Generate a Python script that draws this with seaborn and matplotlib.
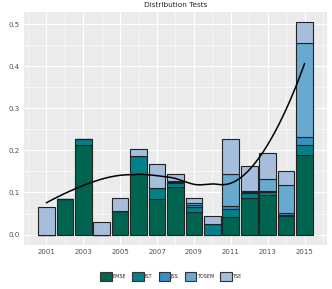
import matplotlib
matplotlib.use("Agg")
import matplotlib.pyplot as plt
import numpy as np
import pandas as pd
import seaborn as sns
from matplotlib.patches import Patch

years = list(range(2001, 2016))
venues = ["EMSE", "IST", "JSS", "TOSEM", "TSE"]
emse = [0.000, 0.084, 0.214, 0.000, 0.056, 0.144, 0.084, 0.112, 0.054, 0.000, 0.042, 0.087, 0.093, 0.044, 0.190]
ist = [0.000, 0.000, 0.012, 0.000, 0.000, 0.042, 0.026, 0.010, 0.012, 0.024, 0.019, 0.012, 0.007, 0.003, 0.024]
jss = [0.000, 0.000, 0.000, 0.000, 0.000, 0.000, 0.000, 0.003, 0.005, 0.000, 0.008, 0.003, 0.003, 0.005, 0.017]
tosem = [0.000, 0.000, 0.000, 0.000, 0.000, 0.000, 0.000, 0.003, 0.004, 0.000, 0.075, 0.002, 0.028, 0.066, 0.224]
tse = [0.065, 0.000, 0.000, 0.030, 0.030, 0.017, 0.058, 0.015, 0.013, 0.020, 0.083, 0.060, 0.063, 0.032, 0.049]
colors = ["#016450", "#02818a", "#3690c0", "#67a9cf", "#a6bddb"]


def loess(x, y, xs, span=0.75):
    # local quadratic fit with tricube weights (ggplot's geom_smooth default)
    q = int(np.floor(len(x) * span))
    out = []
    for x0 in xs:
        d = np.abs(x - x0)
        ds = np.sort(d)
        h = (ds[q - 1] + ds[q]) / 2
        w = np.clip(1 - (d / h) ** 3, 0, None) ** 3
        X = np.vstack([np.ones_like(x), x - x0, (x - x0) ** 2]).T
        W = np.diag(w)
        beta = np.linalg.solve(X.T @ W @ X, X.T @ W @ y)
        out.append(beta[0])
    return np.array(out)


rows = []
for v, vals in zip(venues, [emse, ist, jss, tosem, tse]):
    for yr, val in zip(years, vals):
        rows.append({"year": yr, "venue": v, "share": val})
df = pd.DataFrame(rows)

totals = np.array(emse) + np.array(ist) + np.array(jss) + np.array(tosem) + np.array(tse)
xs = np.linspace(2001, 2015, 200)
smooth = pd.DataFrame({"year": xs, "share": loess(np.array(years, float), totals, xs)})

sns.set_theme(style="darkgrid", rc={
    "axes.facecolor": "#EBEBEB", "grid.color": "white",
    "xtick.color": "#4D4D4D", "ytick.color": "#4D4D4D",
})
plt.rcParams["font.family"] = ["DejaVu Sans"]

fig, ax = plt.subplots(figsize=(3.32, 2.89), dpi=100)
sns.histplot(data=df, x="year", weights="share", hue="venue", hue_order=venues[::-1],
             palette=colors[::-1], multiple="stack", discrete=True, shrink=0.9,
             edgecolor="#222222", linewidth=0.8, alpha=1, legend=False, ax=ax)
sns.lineplot(data=smooth, x="year", y="share", color="black", linewidth=1.1, ax=ax)

ax.set_xlim(1999.8, 2016.2)
ax.set_ylim(-0.025, 0.53)
ax.set_xticks(range(2001, 2016, 2))
ax.set_xticks(range(2000, 2017, 2), minor=True)
ax.set_yticks(np.arange(0, 0.51, 0.1))
ax.set_yticks(np.arange(0.05, 0.51, 0.1), minor=True)
ax.set_yticklabels([f"{v:.1f}" for v in np.arange(0, 0.51, 0.1)])
ax.grid(which="major", color="white", linewidth=0.8)
ax.grid(which="minor", color="white", linewidth=0.4)
ax.tick_params(labelsize=5, length=2, pad=1, colors="#4D4D4D", which="major")
ax.tick_params(which="minor", length=0)
ax.set_xlabel("")
ax.set_ylabel("")
ax.set_title("Distribution Tests", fontsize=5.3, pad=3)
for s in ax.spines.values():
    s.set_visible(False)

handles = [Patch(facecolor=c, edgecolor="#333333", linewidth=0.8, label=v)
           for v, c in zip(venues, colors)]
fig.legend(handles=handles, loc="center", ncol=5, frameon=False, fontsize=3.5,
           handlelength=2.3, handleheight=2.3, handletextpad=0.15, columnspacing=1.35,
           bbox_to_anchor=(0.515, 12.5 / 289))

fig.subplots_adjust(left=0.073, right=0.984, top=0.96, bottom=0.152)
fig.savefig("out.png", dpi=100)
